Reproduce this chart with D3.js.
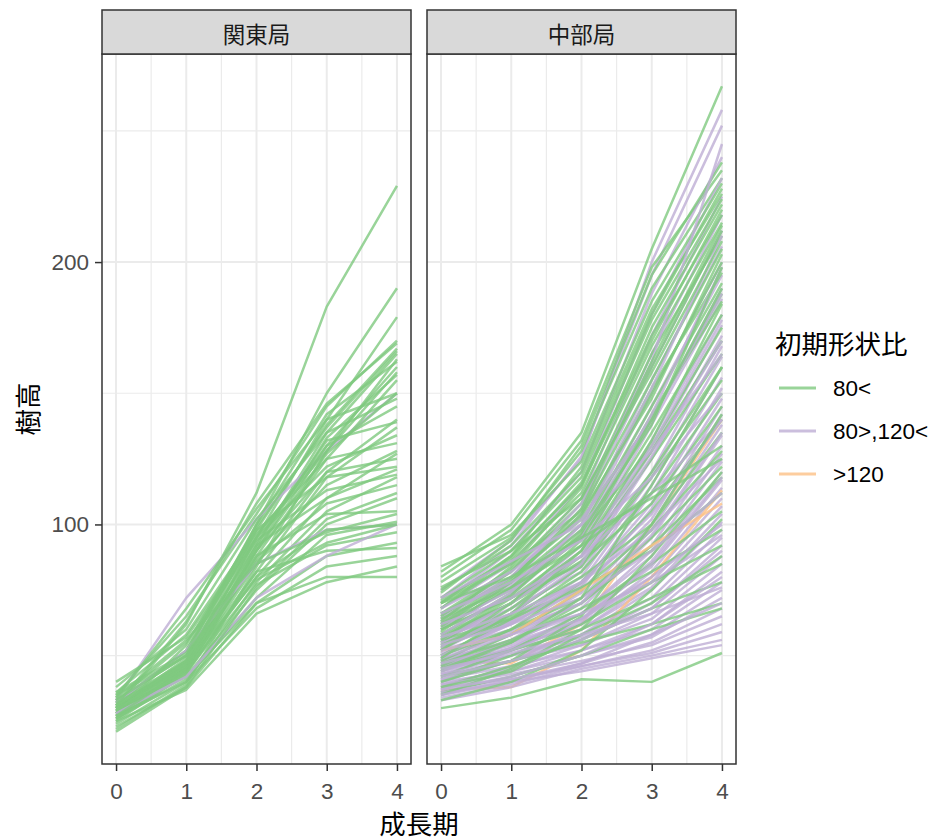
<!DOCTYPE html>
<html>
<head>
<meta charset="utf-8">
<script src="https://cdn.jsdelivr.net/npm/d3@7"></script>
<style>
  body { margin: 0; background: #ffffff; }
  svg { display: block; }
</style>
</head>
<body>
<svg id="chart" width="937" height="840"></svg>
<script>
// Growth stages on the x axis, facets, and shape-ratio groups
const stages = [0, 1, 2, 3, 4];
const regions = ["関東局", "中部局"];
const shapeGroups = ["80<", "80>,120<", ">120"];
const groupColors = ["#7FC97F", "#BEAED4", "#FDC086"];
const yTicks = [100, 200];
const yMinorTicks = [50, 150, 250];
const xMinorTicks = [0.5, 1.5, 2.5, 3.5];

// Tree heights per stage (0..4), 関東局, ratio 80<
const kanto80 = [
  [30, 62, 112, 183, 229], [32, 52, 100, 150, 190], [28, 46, 95, 140, 179],
  [35, 65, 104, 145, 170], [30, 48, 98, 138, 167], [27, 45, 92, 135, 165],
  [33, 50, 100, 142, 162], [29, 47, 90, 130, 160], [31, 52, 96, 128, 158],
  [26, 44, 88, 125, 155], [34, 68, 106, 140, 150], [28, 45, 85, 120, 140],
  [30, 49, 93, 132, 139], [25, 43, 82, 118, 137], [36, 58, 97, 125, 131],
  [29, 46, 87, 115, 128], [32, 48, 90, 120, 125], [27, 44, 80, 110, 121],
  [33, 55, 94, 113, 119], [24, 40, 78, 105, 118], [30, 47, 86, 108, 115],
  [28, 42, 75, 100, 110], [35, 50, 88, 104, 105], [26, 41, 72, 96, 101],
  [31, 45, 80, 98, 100], [29, 44, 77, 92, 97], [23, 38, 70, 88, 93],
  [32, 46, 82, 90, 91], [27, 40, 68, 84, 88], [25, 37, 66, 78, 84],
  [30, 42, 70, 80, 80], [38, 60, 102, 135, 148], [40, 57, 95, 130, 145],
  [22, 39, 84, 128, 163], [28, 54, 99, 137, 166], [31, 63, 108, 146, 169],
  [26, 43, 90, 127, 150], [33, 50, 92, 110, 127], [21, 38, 76, 102, 112],
  [29, 48, 95, 122, 134], [34, 56, 85, 97, 104], [27, 45, 91, 133, 157],
  [31, 47, 79, 93, 100], [36, 51, 98, 118, 122]
];
// 関東局, ratio 80>,120<
const kanto80to120 = [
  [33, 72, 102, 128, 150], [32, 52, 85, 98, 100], [28, 42, 72, 88, 100]
];
// 関東局, ratio >120 (none)
const kanto120 = [];

// 中部局, ratio 80<
const chubu80 = [
  [82, 100, 135, 205, 267], [80, 98, 132, 198, 235], [78, 95, 128, 190, 232],
  [84, 96, 124, 185, 230], [75, 92, 120, 180, 228], [72, 90, 118, 178, 224],
  [70, 88, 115, 170, 220], [68, 86, 112, 168, 215], [76, 90, 110, 160, 212],
  [65, 82, 108, 165, 210], [70, 85, 105, 155, 205], [62, 80, 103, 150, 200],
  [66, 78, 100, 152, 196], [60, 76, 98, 145, 192], [64, 80, 102, 140, 188],
  [58, 74, 95, 142, 185], [55, 72, 92, 135, 180], [62, 75, 96, 130, 175],
  [57, 70, 90, 128, 170], [52, 68, 88, 125, 165], [60, 72, 85, 120, 160],
  [54, 66, 84, 118, 155], [50, 64, 82, 112, 150], [58, 70, 86, 108, 145],
  [48, 60, 78, 105, 140], [53, 65, 80, 100, 135], [46, 58, 75, 98, 128],
  [50, 60, 72, 95, 122], [44, 55, 70, 92, 118], [56, 64, 76, 90, 112],
  [42, 52, 66, 85, 105], [47, 56, 68, 82, 98], [40, 50, 62, 78, 92],
  [45, 52, 60, 72, 85], [38, 46, 56, 68, 78], [30, 34, 41, 40, 51],
  [36, 42, 50, 60, 68], [42, 48, 55, 62, 70], [74, 94, 130, 195, 238],
  [68, 88, 122, 182, 226], [63, 84, 114, 175, 222], [71, 87, 116, 172, 218],
  [59, 78, 106, 162, 214], [66, 83, 110, 158, 208], [61, 79, 104, 148, 203],
  [56, 73, 97, 138, 198], [52, 70, 94, 140, 190], [49, 66, 90, 132, 184],
  [35, 45, 60, 88, 120], [40, 48, 65, 100, 142], [33, 40, 52, 75, 102],
  [45, 55, 72, 115, 160], [38, 44, 58, 70, 88], [64, 76, 92, 112, 130],
  [70, 80, 95, 110, 125]
];
// 中部局, ratio 80>,120<
const chubu80to120 = [
  [75, 94, 125, 200, 258], [72, 92, 126, 195, 252], [70, 90, 120, 188, 240],
  [68, 85, 115, 180, 232], [65, 82, 110, 172, 225], [66, 80, 106, 165, 218],
  [62, 78, 104, 160, 212], [60, 76, 100, 155, 206], [63, 77, 98, 150, 200],
  [58, 73, 96, 145, 195], [57, 70, 92, 140, 190], [55, 70, 90, 138, 186],
  [60, 72, 88, 132, 180], [54, 68, 86, 128, 176], [52, 66, 84, 125, 172],
  [56, 68, 82, 120, 168], [50, 63, 80, 118, 164], [53, 64, 78, 115, 160],
  [48, 60, 76, 112, 156], [51, 62, 77, 108, 152], [47, 58, 74, 106, 148],
  [55, 63, 75, 102, 145], [45, 56, 72, 100, 142], [50, 59, 70, 98, 138],
  [46, 55, 68, 95, 134], [52, 60, 70, 92, 130], [44, 53, 66, 90, 127],
  [48, 56, 66, 88, 124], [42, 52, 64, 86, 120], [49, 55, 64, 84, 117],
  [43, 50, 62, 82, 114], [46, 53, 62, 80, 110], [40, 48, 60, 78, 107],
  [47, 52, 60, 76, 104], [41, 48, 58, 75, 101], [44, 50, 58, 72, 98],
  [38, 46, 56, 70, 95], [45, 50, 57, 68, 92], [39, 45, 54, 66, 88],
  [43, 48, 54, 64, 85], [37, 44, 52, 62, 82], [41, 46, 52, 60, 78],
  [36, 42, 50, 58, 75], [40, 44, 50, 57, 72], [35, 40, 47, 55, 68],
  [39, 43, 48, 54, 65], [34, 39, 46, 52, 62], [38, 41, 46, 51, 59],
  [33, 38, 45, 50, 56], [36, 40, 44, 49, 54], [58, 74, 100, 152, 210],
  [64, 80, 108, 162, 245], [61, 75, 95, 142, 198], [56, 70, 88, 130, 178],
  [53, 66, 85, 126, 170], [68, 82, 102, 140, 188], [50, 62, 78, 104, 140],
  [72, 86, 100, 128, 165], [49, 58, 70, 96, 135], [44, 52, 63, 85, 118],
  [66, 78, 94, 118, 150], [62, 72, 88, 112, 140], [57, 66, 78, 98, 125],
  [54, 62, 72, 90, 112], [47, 54, 64, 80, 100], [42, 48, 56, 68, 90],
  [37, 42, 50, 62, 80], [35, 41, 47, 58, 70], [45, 51, 58, 66, 76],
  [52, 58, 66, 78, 96]
];
// 中部局, ratio >120
const chubu120 = [
  [48, 47, 62, 100, 140], [37, 38, 52, 80, 113], [52, 58, 75, 92, 108]
];

const panelSeries = [
  [kanto80, kanto80to120, kanto120],
  [chubu80, chubu80to120, chubu120]
];

// Layout
const panelTop = 54, panelBottom = 764, panelW = 309;
const panelX = [102, 427];
const stripTop = 10;
const tickFont = "'Liberation Sans', Arial, sans-serif";
const cjkFont = "'Noto Sans CJK JP', 'Noto Sans', sans-serif";

const svg = d3.select("#chart");

// Shared scales, expanded by 5% on each side
const xExt = d3.extent(stages);
const xPad = (xExt[1] - xExt[0]) * 0.05;
const x = d3.scaleLinear().domain([xExt[0] - xPad, xExt[1] + xPad]).range([0, panelW]);

const allVals = panelSeries.flat(2).flat();
const yExt = d3.extent(allVals);
const yPad = (yExt[1] - yExt[0]) * 0.05;
const y = d3.scaleLinear().domain([yExt[0] - yPad, yExt[1] + yPad]).range([panelBottom, panelTop]);

const line = d3.line().x((d, i) => x(stages[i])).y(d => y(d));

panelSeries.forEach((groups, p) => {
  const g = svg.append("g").attr("transform", `translate(${panelX[p]},0)`);

  g.append("rect").attr("x", 0).attr("y", panelTop)
    .attr("width", panelW).attr("height", panelBottom - panelTop).attr("fill", "#ffffff");

  // grid
  g.selectAll("line.ymin").data(yMinorTicks).join("line")
    .attr("x1", 0).attr("x2", panelW).attr("y1", d => y(d)).attr("y2", d => y(d))
    .attr("stroke", "#ebebeb").attr("stroke-width", 1.2);
  g.selectAll("line.xmin").data(xMinorTicks).join("line")
    .attr("y1", panelTop).attr("y2", panelBottom).attr("x1", d => x(d)).attr("x2", d => x(d))
    .attr("stroke", "#ebebeb").attr("stroke-width", 1.2);
  g.selectAll("line.ymaj").data(yTicks).join("line")
    .attr("x1", 0).attr("x2", panelW).attr("y1", d => y(d)).attr("y2", d => y(d))
    .attr("stroke", "#ebebeb").attr("stroke-width", 2);
  g.selectAll("line.xmaj").data(stages).join("line")
    .attr("y1", panelTop).attr("y2", panelBottom).attr("x1", d => x(d)).attr("x2", d => x(d))
    .attr("stroke", "#ebebeb").attr("stroke-width", 2);

  // interleave the groups in drawing order
  const rows = [];
  groups.forEach((arr, gi) => {
    arr.forEach((vals, i) => rows.push({ vals, gi, key: (i + 0.5) / arr.length + gi * 1e-4 }));
  });
  rows.sort((a, b) => a.key - b.key);

  g.append("g").selectAll("path").data(rows).join("path")
    .attr("d", d => line(d.vals))
    .attr("fill", "none")
    .attr("stroke", d => groupColors[d.gi])
    .attr("stroke-opacity", 0.8)
    .attr("stroke-width", 2.5)
    .attr("stroke-linejoin", "round");

  // border
  g.append("rect").attr("x", 0).attr("y", panelTop)
    .attr("width", panelW).attr("height", panelBottom - panelTop)
    .attr("fill", "none").attr("stroke", "#333333").attr("stroke-width", 1.5);

  // strip
  g.append("rect").attr("x", 0).attr("y", stripTop)
    .attr("width", panelW).attr("height", panelTop - stripTop)
    .attr("fill", "#d9d9d9").attr("stroke", "#333333").attr("stroke-width", 1.5);
  g.append("text").attr("x", panelW / 2).attr("y", (stripTop + panelTop) / 2 + 1)
    .attr("text-anchor", "middle").attr("dominant-baseline", "central")
    .attr("font-family", cjkFont).attr("font-size", 22.5).attr("fill", "#1a1a1a")
    .text(regions[p]);

  // x axis
  const xa = g.append("g").attr("transform", `translate(0,${panelBottom})`)
    .call(d3.axisBottom(x).tickValues(stages).tickFormat(d3.format("d")).tickSize(7).tickPadding(12));
  xa.select(".domain").remove();
  xa.selectAll(".tick line").attr("stroke", "#333333").attr("stroke-width", 1.5);
  xa.selectAll(".tick text").attr("fill", "#4d4d4d").attr("font-family", tickFont).attr("font-size", 22.5);

  if (p === 0) {
    const ya = g.append("g")
      .call(d3.axisLeft(y).tickValues(yTicks).tickSize(7).tickPadding(6));
    ya.select(".domain").remove();
    ya.selectAll(".tick line").attr("stroke", "#333333").attr("stroke-width", 1.5);
    ya.selectAll(".tick text").attr("fill", "#4d4d4d").attr("font-family", tickFont).attr("font-size", 22.5);
  }
});

// axis titles
svg.append("text").attr("x", (panelX[0] + panelX[1] + panelW) / 2).attr("y", 822)
  .attr("text-anchor", "middle").attr("dominant-baseline", "central")
  .attr("font-family", cjkFont).attr("font-size", 26.5).attr("fill", "#000")
  .text("成長期");
svg.append("text")
  .attr("transform", `translate(26,${(panelTop + panelBottom) / 2}) rotate(-90)`)
  .attr("text-anchor", "middle").attr("dominant-baseline", "central")
  .attr("font-family", cjkFont).attr("font-size", 26.5).attr("fill", "#000")
  .text("樹高");

// legend
const lg = svg.append("g");
lg.append("text").attr("x", 775).attr("y", 342).attr("dominant-baseline", "central")
  .attr("font-family", cjkFont).attr("font-size", 26.5).attr("fill", "#000")
  .text("初期形状比");
const keyY = [388, 431, 474];
shapeGroups.forEach((name, i) => {
  lg.append("line").attr("x1", 779).attr("x2", 816).attr("y1", keyY[i]).attr("y2", keyY[i])
    .attr("stroke", groupColors[i]).attr("stroke-opacity", 0.8).attr("stroke-width", 3.2);
  lg.append("text").attr("x", 833).attr("y", keyY[i]).attr("dominant-baseline", "central")
    .attr("font-family", tickFont).attr("font-size", 22.5).attr("fill", "#000")
    .text(name);
});
</script>
</body>
</html>
